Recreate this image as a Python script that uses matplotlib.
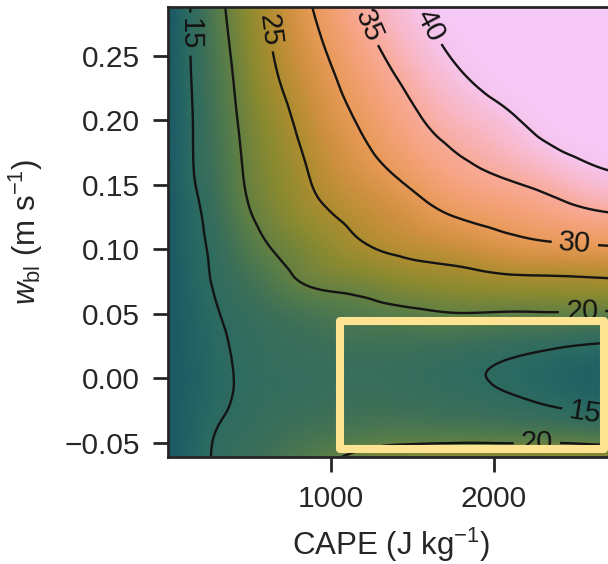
import numpy as np
import matplotlib
matplotlib.use("Agg")
import matplotlib.pyplot as plt
import matplotlib.tri as mtri
from matplotlib.colors import LinearSegmentedColormap, Normalize
from matplotlib.patches import Rectangle
from matplotlib.ticker import FuncFormatter

plt.rcParams["font.family"] = ["Liberation Sans", "DejaVu Sans"]
plt.rcParams["mathtext.fontset"] = "custom"
plt.rcParams["mathtext.rm"] = "Liberation Sans"
plt.rcParams["mathtext.it"] = "Liberation Sans:italic"
plt.rcParams["mathtext.bf"] = "Liberation Sans:bold"

# grid
cape = [0, 150, 300, 450, 650, 900, 1200, 1500, 1800, 2100, 2400, 2700, 3000]
w_bl = [-0.065, -0.045, -0.025, 0.0, 0.025, 0.05, 0.075, 0.1, 0.13, 0.16, 0.2, 0.24, 0.29]
field = [
    [12.2, 13.8, 15.3, 16.3, 17.6, 19.2, 21.7, 22.8, 23.3, 23.5, 23.7, 23.8, 23.8],
    [12.1, 13.55, 15.15, 15.8, 16.7, 17.7, 18.6, 19.0, 19.05, 18.9, 18.8, 18.3, 18.0],
    [12.1, 13.3, 14.6, 15.4, 16.1, 16.6, 17.0, 16.9, 16.5, 16.0, 15.25, 14.5, 14.2],
    [12.2, 13.1, 14.35, 15.2, 15.8, 16.1, 16.3, 16.0, 15.4, 14.6, 13.7, 12.95, 12.6],
    [12.1, 13.2, 14.5, 15.35, 16.05, 16.55, 16.9, 16.9, 16.5, 15.9, 15.2, 14.6, 14.3],
    [12.0, 13.4, 14.85, 15.8, 16.85, 17.9, 18.8, 19.4, 19.9, 19.7, 19.75, 19.5, 19.3],
    [11.9, 13.76, 15.36, 16.7, 18.6, 20.5, 21.4, 22.7, 23.4, 24.0, 24.2, 24.5, 24.6],
    [11.9, 13.95, 15.8, 17.9, 20.1, 22.1, 24.5, 25.9, 26.9, 28.3, 29.0, 29.4, 29.8],
    [11.9, 14.25, 16.6, 19.2, 21.6, 24.2, 26.5, 28.6, 30.8, 32.2, 33.8, 35.2, 35.8],
    [11.9, 14.85, 17.25, 19.85, 22.4, 25.5, 28.5, 31.3, 34.0, 35.7, 37.7, 39.8, 40.5],
    [11.9, 14.95, 17.7, 20.4, 23.4, 26.9, 30.6, 34.2, 37.0, 39.3, 42.8, 45.0, 47.0],
    [11.9, 15.2, 18.2, 21.1, 24.75, 28.4, 32.7, 36.6, 40.1, 43.5, 47.0, 50.0, 52.0],
    [11.8, 15.3, 18.9, 22.06, 25.9, 30.3, 35.4, 39.5, 43.2, 47.0, 51.0, 55.0, 58.0],
]
levels = [15, 20, 25, 30, 35, 40]
label_pos = [(151, 0.267), (612, 0.270), (1258, 0.275), (1614, 0.274),
             (2500, 0.105), (2543, 0.054), (2561, -0.027), (2266, -0.050)]

cmap_vals = [5, 12, 14.5, 16.5, 19, 22.5, 25, 27.5, 30, 32.5, 35, 37.5, 40, 41.5]
cmap_cols = ["#0b3a5f", "#1b5964", "#2a6a62", "#3a6e5a", "#557c4a", "#8a8a30",
             "#ac8c30", "#d09040", "#e89a58", "#f4a078", "#f8aa98", "#f8b8c8",
             "#f6c4ec", "#f5c8f5"]
vmin, vmax = cmap_vals[0], cmap_vals[-1]
cmap = LinearSegmentedColormap.from_list(
    "bat", [((v - vmin) / (vmax - vmin), c) for v, c in zip(cmap_vals, cmap_cols)])

Z = np.array(field)
X, W = np.meshgrid(cape, w_bl)
ny, nx = Z.shape
tris = []
for j in range(ny - 1):
    for i in range(nx - 1):
        k = j * nx + i
        tris.append([k, k + 1, k + nx + 1])
        tris.append([k, k + nx + 1, k + nx])

# triangulate in scaled units so the cubic interpolator is not skewed
tri_s = mtri.Triangulation(X.ravel() / 1000, W.ravel() / 0.1, tris)
interp = mtri.CubicTriInterpolator(tri_s, Z.ravel(), kind="min_E")
tri_r, z_r = mtri.UniformTriRefiner(tri_s).refine_field(Z.ravel(), triinterpolator=interp, subdiv=4)
tri_d = mtri.Triangulation(tri_r.x * 1000, tri_r.y * 0.1, tri_r.triangles)

fig = plt.figure(figsize=(6.08, 5.64), dpi=100)
ax = fig.add_axes([168 / 608, 107 / 564, 446 / 608, 450 / 564])

ax.tripcolor(tri_d, z_r, shading="gouraud", cmap=cmap,
             norm=Normalize(vmin, vmax), rasterized=True)
cs = ax.tricontour(tri_d, z_r, levels=levels, colors="#141414", linewidths=1.7)
ax.clabel(cs, manual=label_pos, inline=True, fmt="%d", fontsize=21)

ax.add_patch(Rectangle((1055, -0.0546), 2678 - 1055, 0.0446 + 0.0546, fill=False,
                       ec="#fde392", lw=5.8, joinstyle="round", zorder=5, clip_on=False))

ax.set_xlim(0, 2740)
ax.set_ylim(-0.061, 0.288)
ax.set_xticks([1000, 2000])
ax.set_yticks([-0.05, 0.0, 0.05, 0.10, 0.15, 0.20, 0.25])
ax.yaxis.set_major_formatter(FuncFormatter(lambda v, p: f"{v:.2f}".replace("-", "\u2212")))

for s in ax.spines.values():
    s.set_linewidth(2)
    s.set_color("#262626")
ax.tick_params(length=11, width=2, color="#262626", labelsize=21.5,
               labelcolor="#262626", pad=9)
ax.set_xlabel("CAPE (J kg$^{-1}$)", fontsize=22.5, color="#262626", labelpad=9)
ax.set_ylabel(r"$w_{\rm bl}$ (m s$^{-1}$)", fontsize=22.5, color="#262626", labelpad=14)

fig.savefig("out.png", dpi=100)
